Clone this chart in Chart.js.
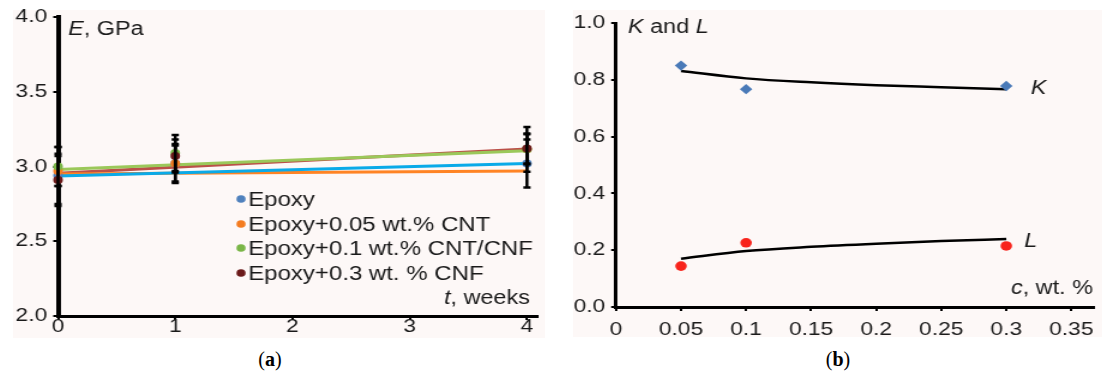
<!DOCTYPE html>
<html>
<head>
<meta charset="utf-8">
<script src="https://cdn.jsdelivr.net/npm/chart.js@4.4.0/dist/chart.umd.min.js"></script>
<style>
  body { margin: 0; background: #fff; width: 1104px; height: 382px; overflow: hidden; position: relative; }
  .panel { position: absolute; background: #fdf8f7; }
  .wrap { position: absolute; top: 0; transform-origin: 0 0; transform: scaleX(1.2); }
  .cap { position: absolute; top: 348px; width: 80px; text-align: center; font: 20px "Liberation Serif", serif; color: #000; }
</style>
</head>
<body>
<div class="panel" style="left:13px; top:10px; width:532px; height:328px;"></div>
<div class="panel" style="left:573px; top:10px; width:529px; height:327px;"></div>
<div class="wrap" style="left:13px;"><canvas id="chartA" width="443" height="345"></canvas></div>
<div class="wrap" style="left:573px;"><canvas id="chartB" width="441" height="345"></canvas></div>
<div class="cap" style="left:230px;">(<b>a</b>)</div>
<div class="cap" style="left:798px;">(<b>b</b>)</div>
<script>
// (a) Young's modulus vs time
const weeks = [0, 1, 4];
const seriesNames = ['Epoxy', 'Epoxy+0.05 wt.% CNT', 'Epoxy+0.1 wt.% CNT/CNF', 'Epoxy+0.3 wt. % CNF'];
const epoxy = [2.94, 3.02, 3.02];
const epoxyErr = [0.19, 0.12, 0.16];
const cnt005 = [2.97, 3.02, 3.115];
const cnt005Err = [0.10, 0.13, 0.15];
const cntcnf01 = [3.00, 3.09, 3.115];
const cntcnf01Err = [0.13, 0.12, 0.10];
const cnf03 = [2.91, 3.07, 3.12];
const cnf03Err = [0.175, 0.11, 0.10];

const trendWeeks = [0, 4];
const epoxyTrend = [2.936, 3.02];
const cnt005Trend = [2.95, 2.97];
const cntcnf01Trend = [2.98, 3.105];
const cnf03Trend = [2.955, 3.117];

const weekTicks = [0, 1, 2, 3, 4];
const weekTickLabels = ['0', '1', '2', '3', '4'];
const modulusTicks = [2, 2.5, 3, 3.5, 4];
const modulusTickLabels = ['2.0', '2.5', '3.0', '3.5', '4.0'];

// (b) K and L vs concentration
const conc = [0.05, 0.1, 0.3];
const kValues = [0.85, 0.767, 0.778];
const lValues = [0.144, 0.226, 0.215];
const fitConc = [0.05, 0.1, 0.15, 0.2, 0.25, 0.3];
const kFit = [0.831, 0.805, 0.791, 0.781, 0.774, 0.767];
const lFit = [0.170, 0.197, 0.212, 0.223, 0.232, 0.239];

const concTicks = [0, 0.05, 0.1, 0.15, 0.2, 0.25, 0.3, 0.35];
const concTickLabels = ['0', '0.05', '0.1', '0.15', '0.2', '0.25', '0.3', '0.35'];
const klTicks = [0, 0.2, 0.4, 0.6, 0.8, 1.0];
const klTickLabels = ['0.0', '0.2', '0.4', '0.6', '0.8', '1.0'];

const FONT = "'Liberation Sans', Arial, sans-serif";
const TEXT = '#1a1a1a';

function pts(xs, ys) {
  return xs.map((x, i) => ({ x: x, y: ys[i] }));
}

// draws text made of italic / upright parts
function drawRich(ctx, parts, x, y, align) {
  ctx.save();
  ctx.fillStyle = TEXT;
  ctx.textBaseline = 'alphabetic';
  ctx.textAlign = 'left';
  let total = 0;
  parts.forEach(p => {
    ctx.font = (p.i ? 'italic ' : '') + '19.5px ' + FONT;
    p.w = ctx.measureText(p.t).width;
    total += p.w;
  });
  let cx = align === 'right' ? x - total : x;
  parts.forEach(p => {
    ctx.font = (p.i ? 'italic ' : '') + '19.5px ' + FONT;
    ctx.fillText(p.t, cx, y);
    cx += p.w;
  });
  ctx.restore();
}

function axis(min, max, ticks, labels, opts) {
  return Object.assign({
    type: 'linear',
    min: min,
    max: max,
    afterBuildTicks: s => { s.ticks = ticks.map(v => ({ value: v })); },
    border: { display: true, color: '#000', width: 3 },
    grid: { display: true, drawOnChartArea: false, drawTicks: true, tickLength: 4, color: '#000', lineWidth: 2 },
    ticks: { color: TEXT, font: { family: FONT, size: 19 }, padding: 5, callback: (v, i) => labels[i] }
  }, opts);
}

const errorBars = {
  id: 'errorBars',
  afterDatasetDraw(chart, args) {
    const ds = chart.data.datasets[args.index];
    if (!ds.errors) return;
    const ctx = chart.ctx;
    const xs = chart.scales.x, ys = chart.scales.y;
    ctx.save();
    ctx.strokeStyle = '#000';
    ctx.lineWidth = 2.5;
    ds.data.forEach((p, i) => {
      const e = ds.errors[i];
      const px = xs.getPixelForValue(p.x);
      const top = ys.getPixelForValue(p.y + e);
      const bot = ys.getPixelForValue(p.y - e);
      ctx.beginPath();
      ctx.moveTo(px, top); ctx.lineTo(px, bot);
      ctx.moveTo(px - 3, top); ctx.lineTo(px + 3, top);
      ctx.moveTo(px - 3, bot); ctx.lineTo(px + 3, bot);
      ctx.stroke();
    });
    ctx.restore();
  }
};

const markerColors = ['#4f81bd', '#f47c20', '#7ab648', '#6b1a1a'];
const trendColors = ['#0aaae8', '#ff8424', '#9bc85a', '#bb5048'];

const legendA = {
  id: 'legendA',
  afterDraw(chart) {
    const ctx = chart.ctx;
    const a = chart.chartArea;
    const x = a.left + 0.382 * (a.right - a.left);
    const rows = [199, 224, 248, 273];
    ctx.save();
    seriesNames.forEach((name, i) => {
      ctx.fillStyle = markerColors[i];
      ctx.beginPath();
      ctx.arc(x, rows[i], 3.8, 0, Math.PI * 2);
      ctx.fill();
      ctx.fillStyle = TEXT;
      ctx.font = '20px ' + FONT;
      ctx.textBaseline = 'middle';
      ctx.fillText(name, x + 6, rows[i] + 1);
    });
    ctx.restore();
    drawRich(ctx, [{ t: 'E', i: true }, { t: ', GPa' }], a.left + 8.5, 35);
    drawRich(ctx, [{ t: 't', i: true }, { t: ', weeks' }], a.right - 6, 304, 'right');
  }
};

const values = [epoxy, cnt005, cntcnf01, cnf03];
const errors = [epoxyErr, cnt005Err, cntcnf01Err, cnf03Err];
const trends = [epoxyTrend, cnt005Trend, cntcnf01Trend, cnf03Trend];

const datasetsA = [];
trends.forEach((t, i) => {
  datasetsA.push({
    data: pts(trendWeeks, t), showLine: true, borderColor: trendColors[i], borderWidth: 3,
    pointRadius: 0, clip: false, order: 10
  });
});
values.forEach((v, i) => {
  datasetsA.push({
    label: seriesNames[i], data: pts(weeks, v), errors: errors[i], showLine: false,
    pointRadius: 4, pointBackgroundColor: markerColors[i], pointBorderWidth: 0,
    clip: false, order: 4 - i
  });
});

new Chart(document.getElementById('chartA'), {
  type: 'scatter',
  data: { datasets: datasetsA },
  options: {
    responsive: false,
    animation: false,
    events: [],
    layout: { padding: { top: 17, right: 6.3, left: 0, bottom: 0 } },
    plugins: { legend: { display: false }, tooltip: { enabled: false } },
    scales: {
      x: axis(0, 4.086, weekTicks, weekTickLabels, {
        afterFit: s => { s.height = 29; }
      }),
      y: axis(2, 4, modulusTicks, modulusTickLabels, {
        afterFit: s => { s.width = 37.5; },
        border: { display: true, color: '#000', width: 4 }
      })
    }
  },
  plugins: [errorBars, legendA]
});
Chart.getChart('chartA').options.scales.x.ticks.padding = -5;
Chart.getChart('chartA').update();

const labelsB = {
  id: 'labelsB',
  afterDraw(chart) {
    const ctx = chart.ctx;
    const a = chart.chartArea;
    const xs = chart.scales.x, ys = chart.scales.y;
    drawRich(ctx, [{ t: 'K', i: true }, { t: ' and ' }, { t: 'L', i: true }], a.left + 10, 33);
    drawRich(ctx, [{ t: 'K', i: true }], xs.getPixelForValue(0.3) + 20.5, ys.getPixelForValue(0.75));
    drawRich(ctx, [{ t: 'L', i: true }], xs.getPixelForValue(0.3) + 15, ys.getPixelForValue(0.211));
    drawRich(ctx, [{ t: 'c', i: true }, { t: ', wt. %' }], a.right - 1, 294, 'right');
  }
};

new Chart(document.getElementById('chartB'), {
  type: 'scatter',
  data: {
    datasets: [
      { data: pts(conc, kValues), showLine: false, pointStyle: 'rectRot', pointRadius: 5.2,
        pointBackgroundColor: '#4a7ab8', pointBorderWidth: 0, clip: false, order: 1 },
      { data: pts(conc, lValues), showLine: false, pointStyle: 'circle', pointRadius: 4.8,
        pointBackgroundColor: '#f8241c', pointBorderWidth: 0, clip: false, order: 1 },
      { data: pts(fitConc, kFit), showLine: true, borderColor: '#000', borderWidth: 2.5,
        cubicInterpolationMode: 'monotone', pointRadius: 0, clip: false, order: 5 },
      { data: pts(fitConc, lFit), showLine: true, borderColor: '#000', borderWidth: 2.5,
        cubicInterpolationMode: 'monotone', pointRadius: 0, clip: false, order: 5 }
    ]
  },
  options: {
    responsive: false,
    animation: false,
    events: [],
    layout: { padding: { top: 23, right: 3.5, left: 0, bottom: 0 } },
    plugins: { legend: { display: false }, tooltip: { enabled: false } },
    scales: {
      x: axis(0, 0.3675, concTicks, concTickLabels, {
        afterFit: s => { s.height = 38; }
      }),
      y: axis(0, 1, klTicks, klTickLabels, {
        afterFit: s => { s.width = 35.8; }
      })
    }
  },
  plugins: [labelsB]
});
Chart.getChart('chartB').options.scales.x.ticks.padding = 7;
Chart.getChart('chartB').update();
</script>
</body>
</html>
